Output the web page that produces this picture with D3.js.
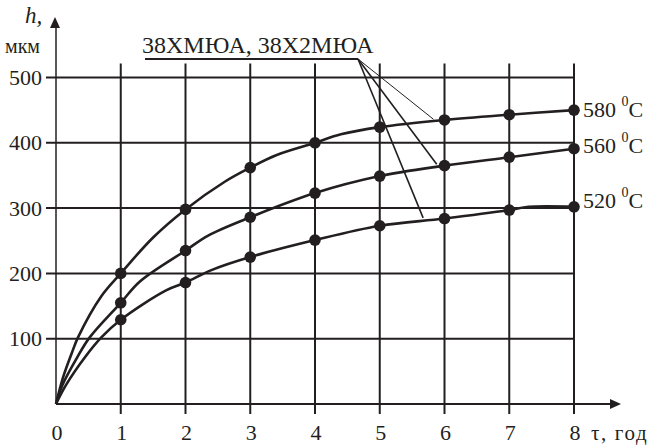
<!DOCTYPE html>
<html><head><meta charset="utf-8">
<script src="https://cdn.jsdelivr.net/npm/d3@7"></script>
<style>
body{margin:0;background:#fff}
svg{display:block}
text{font-family:"Liberation Serif","Times New Roman",serif;fill:#231f20}
</style>
</head><body>
<svg id="c" width="652" height="446"></svg>
<script>
// ---- data ----
const xTicks = [0, 1, 2, 3, 4, 5, 6, 7, 8];
const yTicks = [100, 200, 300, 400, 500];
const t580 = [0, 0.11, 0.24, 0.34, 0.7, 1, 1.5, 2, 2.6, 3, 3.4, 4, 4.4, 5, 6, 7, 8];
const h580 = [0, 41, 77, 102, 165, 200, 255, 298, 340, 362, 381, 400, 413, 424, 435, 443, 450];
const t560 = [0, 0.1, 0.32, 0.52, 1, 1.3, 2, 2.35, 3, 4, 5, 6, 7, 8];
const h560 = [0, 29, 70, 102, 155, 188, 235, 258, 286, 323, 349, 365, 378, 391];
const t520 = [0, 0.16, 0.45, 0.7, 1, 1.7, 2, 2.4, 3, 4, 5, 6, 7, 7.3, 8];
const h520 = [0, 30, 72, 102, 129, 174, 186, 205, 225, 251, 273, 284, 297, 302, 302];
const seriesNames = ["580", "560", "520"];
const steelLabel = "38ХМЮА, 38Х2МЮА";
const xTitle = "τ, год";
const yTitle1 = "h,";
const yTitle2 = "мкм";
// leader line targets (t, h) on each curve
const leaderT = [5.83, 5.88, 5.67];
const leaderH = [436, 367, 285];

const series = [
  {name: seriesNames[0], t: t580, h: h580, dy: 7},
  {name: seriesNames[1], t: t560, h: h560, dy: 4},
  {name: seriesNames[2], t: t520, h: h520, dy: 1}
];

const ink = "#231f20";
const svg = d3.select("#c");
const x = d3.scaleLinear().domain([0, 8]).range([56, 574]);
const y = d3.scaleLinear().domain([0, 500]).range([404, 77.5]);

// grid
const g = svg.append("g");
g.selectAll(".vg").data(xTicks.slice(1)).join("line")
  .attr("x1", d => x(d)).attr("x2", d => x(d))
  .attr("y1", y(0) + 10).attr("y2", y(500) - 14)
  .attr("stroke", ink).attr("stroke-width", 2);
g.selectAll(".hg").data(yTicks).join("line")
  .attr("x1", x(0) - 10).attr("x2", x(8))
  .attr("y1", d => y(d)).attr("y2", d => y(d))
  .attr("stroke", ink).attr("stroke-width", 2);

// axes
svg.append("line").attr("x1", x(0)).attr("x2", 614).attr("y1", y(0)).attr("y2", y(0))
  .attr("stroke", ink).attr("stroke-width", 2);
svg.append("path").attr("d", `M621,${y(0)} L610,${y(0)-5} L610,${y(0)+5} Z`).attr("fill", ink);
svg.append("line").attr("x1", x(0)).attr("x2", x(0)).attr("y1", y(0)).attr("y2", 25)
  .attr("stroke", ink).attr("stroke-width", 1.5);
svg.append("path").attr("d", `M${x(0)-1},17 L${x(0)-6},28 L${x(0)+4},28 Z`).attr("fill", ink);

// tick labels
svg.selectAll(".xl").data(xTicks).join("text")
  .attr("x", d => x(d) + 1).attr("y", 440)
  .attr("text-anchor", "middle").attr("font-size", 22).text(d => d);
svg.selectAll(".yl").data(yTicks).join("text")
  .attr("x", 42).attr("y", d => y(d) + 7.5)
  .attr("text-anchor", "end").attr("font-size", 22).text(d => d);
svg.append("text").attr("x", 591).attr("y", 440).attr("font-size", 21)
  .attr("letter-spacing", 1.6).text(xTitle);
svg.append("text").attr("x", 25).attr("y", 23).attr("font-size", 23).attr("font-style", "italic").text(yTitle1);
svg.append("text").attr("x", 5).attr("y", 53).attr("font-size", 20).text(yTitle2);

// curves
const line = d3.line().x(d => x(d[0])).y(d => y(d[1])).curve(d3.curveCatmullRom.alpha(0.5));
series.forEach((s, i) => {
  const pts = s.t.map((t, j) => [t, s.h[j]]);
  svg.append("path").attr("d", line(pts)).attr("fill", "none")
    .attr("stroke", ink).attr("stroke-width", 2.6).attr("stroke-linejoin", "round");
  svg.selectAll(".dot" + i).data(pts.filter(p => Number.isInteger(p[0]) && p[0] > 0)).join("circle")
    .attr("cx", d => x(d[0])).attr("cy", d => y(d[1])).attr("r", 5.8).attr("fill", ink);
  const last = pts[pts.length - 1];
  const tx = svg.append("text").attr("x", x(8) + 9).attr("y", y(last[1]) + s.dy).attr("font-size", 22);
  tx.append("tspan").text(s.name + " ");
  tx.append("tspan").attr("font-size", 14).attr("dy", -11).text("0");
  tx.append("tspan").attr("dy", 11).text("C");
});

// steel label with underline & leaders
svg.append("text").attr("x", 142).attr("y", 53).attr("font-size", 24).text(steelLabel);
const ax = 358, ay = 59;
svg.append("line").attr("x1", 145).attr("x2", ax).attr("y1", ay).attr("y2", ay)
  .attr("stroke", ink).attr("stroke-width", 2);
leaderT.forEach((t, i) => {
  svg.append("line").attr("x1", ax).attr("y1", ay).attr("x2", x(t)).attr("y2", y(leaderH[i]))
    .attr("stroke", ink).attr("stroke-width", i === 0 ? 1 : 1.6);
});
</script>
</body></html>
